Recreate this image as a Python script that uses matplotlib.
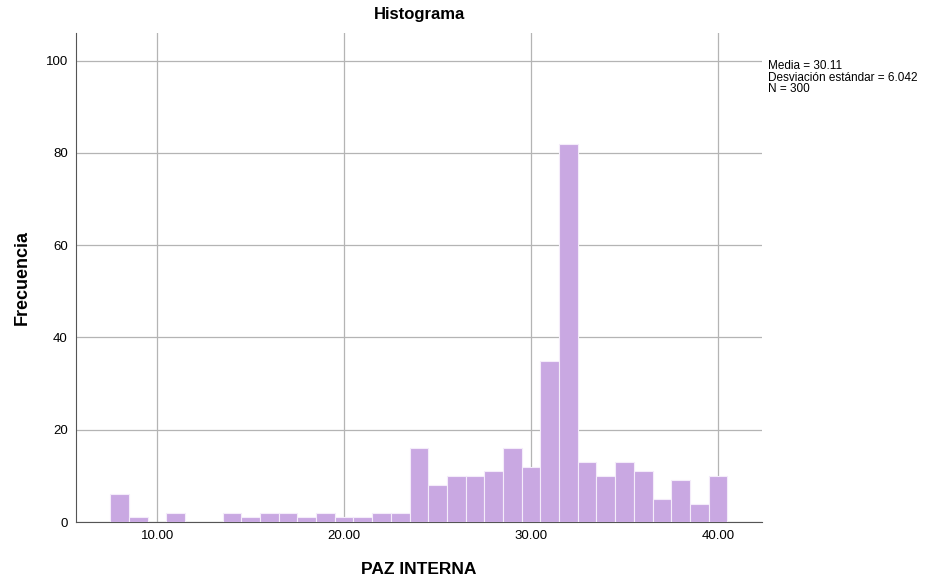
import matplotlib.pyplot as plt
import numpy as np

plt.rcParams['font.family'] = ['Liberation Sans', 'DejaVu Sans']

# centros de los intervalos (ancho 1) y frecuencias
centros = np.arange(8, 41)
frecuencias = [6, 1, 0, 2, 0, 0, 2, 1, 2, 2, 1, 2, 1, 1, 2, 2,
               16, 8, 10, 10, 11, 16, 12, 35, 82, 13, 10, 13, 11, 5, 9, 4, 10]
xticks = [10, 20, 30, 40]
yticks = [0, 20, 40, 60, 80, 100]
stats = "Media = 30.11\nDesviación estándar = 6.042\nN = 300"

fig = plt.figure(figsize=(9.4, 5.83), dpi=100)
ax = fig.add_axes([0.081, 0.1046, 0.7296, 0.8388])

ax.bar(centros, frecuencias, width=1.0, color='#c9a8e2',
       edgecolor='#f4ecfa', linewidth=0.8, zorder=3)

ax.set_xlim(5.67, 42.35)
ax.set_ylim(0, 106)
ax.set_xticks(xticks)
ax.set_xticklabels(['%.2f' % t for t in xticks])
ax.set_yticks(yticks)
ax.tick_params(length=0, labelsize=9.5, pad=6)
ax.grid(True, color='#b4b4b4', linewidth=0.9, zorder=0)

for s in ['top', 'right']:
    ax.spines[s].set_visible(False)
ax.spines['left'].set_color('#555555')
ax.spines['bottom'].set_color('#555555')

ax.set_title('Histograma', fontsize=12, fontweight='bold', pad=10)
ax.set_xlabel('PAZ INTERNA', fontsize=12.5, fontweight='bold', labelpad=14)
ax.set_ylabel('Frecuencia', fontsize=13, fontweight='bold', labelpad=11)

fig.text(0.817, 0.897, stats, fontsize=8.5, va='top', ha='left', linespacing=0.95)

plt.savefig('out.png', dpi=100)
